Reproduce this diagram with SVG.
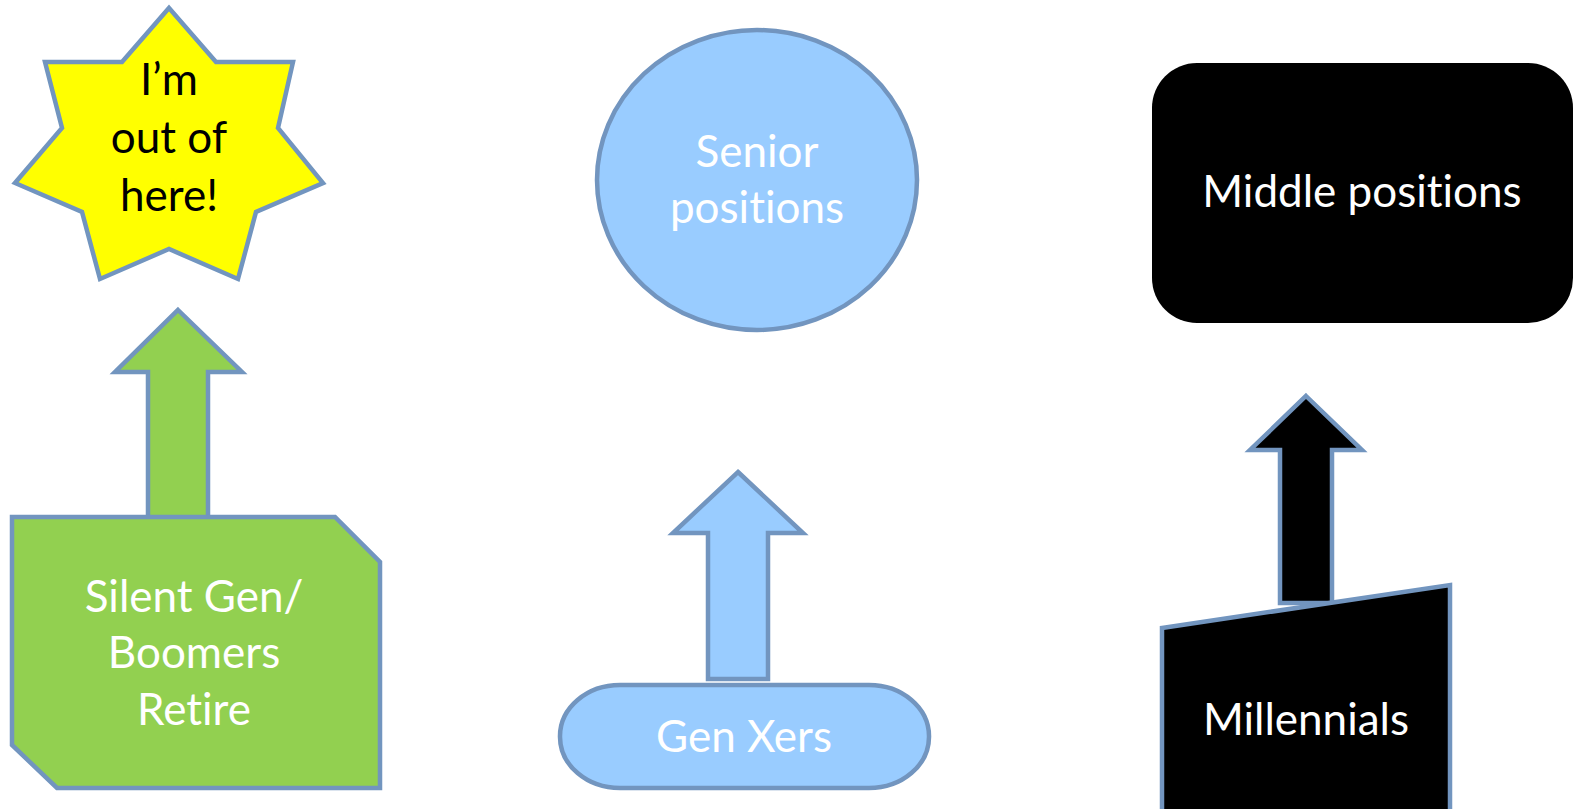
<svg xmlns="http://www.w3.org/2000/svg" width="1577" height="809" viewBox="0 0 1577 809">
<style>
.st{stroke:#7295BF;stroke-width:4.5;stroke-linejoin:miter}
.t{font-family:Lato,"Open Sans","Liberation Sans",sans-serif;font-size:44px;text-anchor:middle;font-variant-ligatures:none}
.w{fill:#ffffff}
.k{fill:#000000}
</style>
<rect width="1577" height="809" fill="#ffffff"/>
<g id="connectors">
<path class="st" fill="#92D050" d="M178,310 L242,372 L208,372 L208,530 L148,530 L148,372 L115,372 Z"/>
<path class="st" fill="#99CCFF" d="M738,472 L803,533 L768,533 L768,679 L708,679 L708,533 L673,533 Z"/>
<path class="st" fill="#000000" d="M1306,396 L1362,450 L1332,450 L1332,603 L1280,603 L1280,450 L1250,450 Z"/>
</g>
<g id="star">
<polygon class="st" fill="#FFFF00" points="169,8 216,62 293,62 278,128 323,183 256,212 238,279 169,249 100,279 82,212 15,183 62,128 45,62 122,62"/>
<text class="t k" x="169" y="95">I’m</text>
<text class="t k" x="169" y="153">out of</text>
<text class="t k" x="169" y="211">here!</text>
</g>
<g id="silent-gen">
<polygon class="st" fill="#92D050" points="12,517 335,517 380,562 380,788 57,788 12,745"/>
<text class="t w" x="194" y="612">Silent Gen/</text>
<text class="t w" x="194" y="668">Boomers</text>
<text class="t w" x="194" y="725">Retire</text>
</g>
<g id="senior">
<ellipse class="st" fill="#99CCFF" cx="757" cy="180" rx="160" ry="150"/>
<text class="t w" x="757" y="167">Senior</text>
<text class="t w" x="757" y="223">positions</text>
</g>
<g id="genx">
<rect class="st" fill="#99CCFF" x="560" y="685" width="369" height="103" rx="60" ry="51"/>
<text class="t w" x="744" y="752">Gen Xers</text>
</g>
<g id="middle">
<rect fill="#000000" x="1152" y="63" width="421" height="260" rx="45" ry="45"/>
<text class="t w" x="1362" y="207">Middle positions</text>
</g>
<g id="millennials">
<polygon class="st" fill="#000000" points="1162,628 1450,585 1450,815 1162,815"/>
<text class="t w" x="1306" y="735">Millennials</text>
</g>
</svg>
